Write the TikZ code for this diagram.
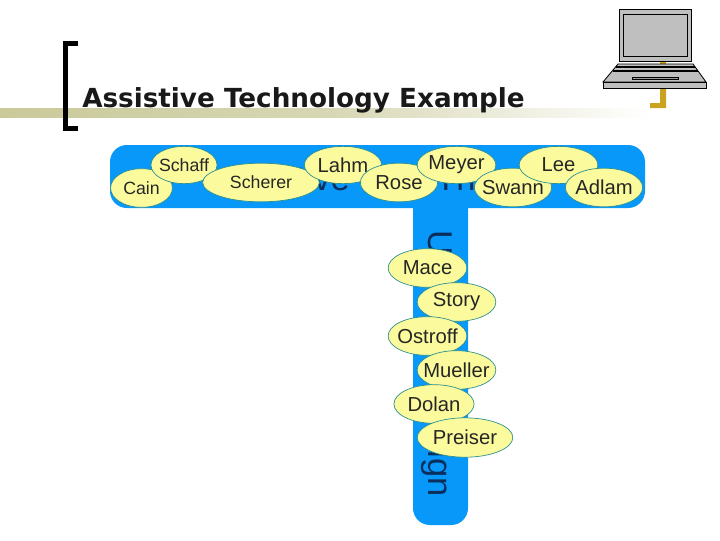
\documentclass[tikz,border=0pt]{standalone}
\usepackage{fontspec}
\setmainfont{Liberation Sans}
\newfontfamily\titlefont{DejaVu Sans}
\usetikzlibrary{shapes.geometric}
\definecolor{barblue}{HTML}{0798FA}
\definecolor{bubblefill}{HTML}{FBFB9D}
\definecolor{bubbleline}{HTML}{2F8F8F}
\definecolor{hiddenink}{HTML}{0B2F5C}
\definecolor{ruleolive}{HTML}{C9C99A}
\definecolor{footgold}{HTML}{C9A21E}
\tikzset{
    person/.style={ellipse, draw=bubbleline, fill=bubblefill, line width=0.5pt, inner ysep=0pt, inner xsep=-8pt,
        minimum width=55pt, minimum height=27.5pt,
        font=\fontsize{14.4}{16}\selectfont, text=black!85},
    smallperson/.style={person, font=\fontsize{12.6}{14}\selectfont},
    hidden/.style={inner sep=0pt, text=hiddenink, font=\fontsize{24.5}{28}\selectfont},
    laptop/.style={draw=black, fill=black!25, line width=0.6pt, line join=miter}
}
\begin{document}
\begin{tikzpicture}[x=0.025cm, y=-0.025cm]
    \useasboundingbox (0,0) rectangle (720,540);

    % Title rule and bracket
    \shade[left color=ruleolive, right color=white, middle color=ruleolive!75] (0,108) rectangle (650,117);
    \draw[line width=4pt, line cap=butt] (78,43.5) -- (65.5,43.5) -- (65.5,128.5) -- (78,128.5);
    \node[anchor=base west, inner sep=0pt, text=black!90, font=\titlefont\bfseries\fontsize{18.66}{22}\selectfont] (title) at (82,107) {Assistive Technology Example};

    % Laptop
    \fill[footgold] (660,61) rectangle (666,64);
    \fill[footgold] (660,88) -- (666,88) -- (666,108) -- (650,108) -- (650,103) -- (660,103) -- cycle;
    \draw[laptop] (619,9) rectangle (691,61);
    \draw[laptop] (623,14) rectangle (687,56);
    \draw[laptop] (618,64) -- (693,64) -- (706,82) -- (603,82) -- cycle;
    \draw[laptop] (603,82) rectangle (706,88);
    \draw[line width=0.8pt] (616,67) -- (695,67);
    \draw[line width=0.8pt] (613,71) -- (698,71);
    \draw[laptop, fill=black!40] (632,77) rectangle (678,79);

    % Bars
    \fill[barblue, rounded corners=12] (413,180) rectangle (468,525);
    \fill[barblue, rounded corners=12] (110,145) rectangle (645,208);

    % Words under the bubbles
    \node[hidden, anchor=base east] (tive) at (350,190) {tive};
    \node[hidden, anchor=base west] (the) at (435,190) {The};
    \node[hidden, anchor=base west, rotate=-90] (u) at (428,230) {U};
    \node[hidden, anchor=base east, rotate=-90] (ign) at (428,497) {ign};

    % Top row
    \node[smallperson, minimum width=44pt] (cain) at (141.5,188) {Cain};
    \node[smallperson, minimum width=47pt, minimum height=26.5pt] (schaff) at (184,165) {Schaff};
    \node[smallperson, minimum width=83pt] (scherer) at (261,182.5) {Scherer};
    \node[person, minimum height=26.5pt] (lahm) at (343,165) {Lahm};
    \node[person] (rose) at (399,182.5) {Rose};
    \node[person, minimum width=56pt, minimum height=26.5pt] (meyer) at (456.5,165) {Meyer};
    \node[person] (swann) at (513,187.5) {Swann};
    \node[person, minimum width=56pt, minimum height=26.5pt] (lee) at (558.5,165) {Lee};
    \node[person] (adlam) at (604,187.5) {Adlam};

    % Column
    \node[person, minimum width=56pt] (mace) at (427.5,268) {Mace};
    \node[person, minimum width=56pt] (story) at (456.5,302) {Story};
    \node[person, minimum width=56pt] (ostroff) at (427.5,336) {Ostroff};
    \node[person, minimum width=56pt] (mueller) at (456.5,370) {Mueller};
    \node[person, minimum width=57pt] (dolan) at (434,404) {Dolan};
    \node[person, minimum width=68pt, minimum height=28pt] (preiser) at (465,437.5) {Preiser};
\end{tikzpicture}
\end{document}
